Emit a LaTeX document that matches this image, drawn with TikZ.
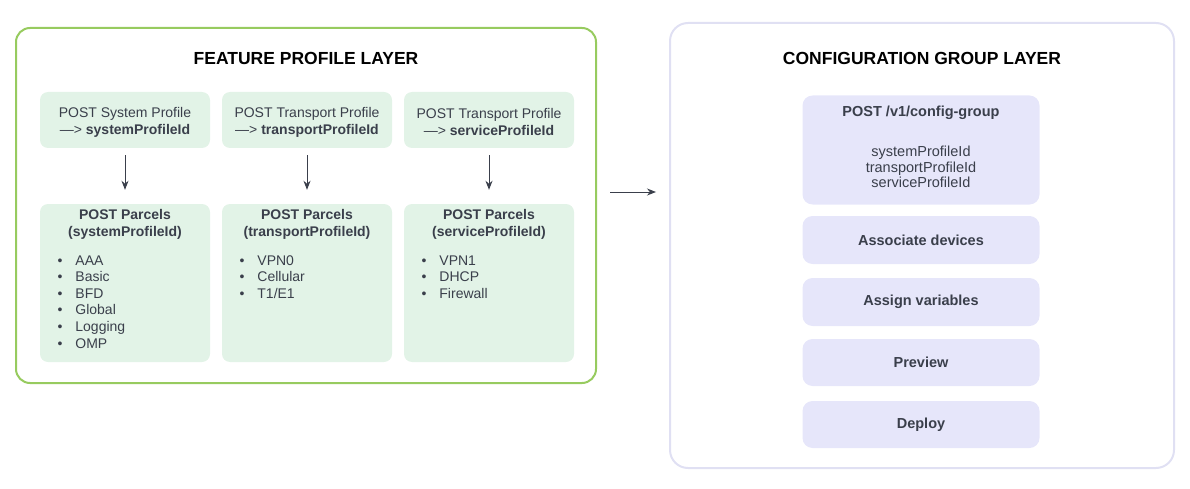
\documentclass[tikz,border=0pt]{standalone}
\usepackage{fontspec}
\setmainfont{Liberation Sans}
\usetikzlibrary{arrows.meta}
\definecolor{leafgreen}{HTML}{97CB5F}
\definecolor{mintfill}{HTML}{E2F3E7}
\definecolor{lavline}{HTML}{E0E0F3}
\definecolor{lavfill}{HTML}{E6E6FA}
\definecolor{inkgrey}{HTML}{3A3F4B}
\tikzset{
    layer/.style={draw, line width=2pt, rounded corners=14pt},
    greenbox/.style={fill=mintfill, rounded corners=8pt, minimum width=170pt, text=inkgrey, font=\fontsize{14}{17}\selectfont},
    lavbox/.style={fill=lavfill, rounded corners=10pt, minimum width=237pt, text=inkgrey, font=\fontsize{14.5}{17}\selectfont\bfseries},
    flow/.style={-{Stealth[length=9pt,width=7pt]}, draw=inkgrey, line width=1pt},
    heading/.style={font=\fontsize{17.5}{20}\selectfont\bfseries, text=black},
    bullets/.style={anchor=north west, align=left, text=inkgrey, font=\fontsize{14}{16.6}\selectfont}
}
\begin{document}
\begin{tikzpicture}[x=1pt, y=-1pt]
    \useasboundingbox (0,0) rectangle (1190,489);
    % two layers
    \draw[layer, draw=leafgreen] (16,28) rectangle (596,383);
    \draw[layer, draw=lavline, rounded corners=18pt] (670,23) rectangle (1174,468);
    \node[heading] (fpl) at (306,58) {FEATURE PROFILE LAYER};
    \node[heading] (cgl) at (922,58) {CONFIGURATION GROUP LAYER};

    % feature profiles
    \foreach \n/\x/\kind/\pid in {sys/125/System/systemProfileId, trn/307/Transport/transportProfileId, svc/489/Transport/serviceProfileId} {
        \node[greenbox, minimum height=56pt, align=center] (top\n) at (\x,120) {};
        \node[text=inkgrey, font=\fontsize{14}{17}\selectfont, align=center] (lbl\n) at (\x,122) {POST \kind{} Profile\\ —> \textbf{\pid}};
        \node[greenbox, minimum height=158pt] (par\n) at (\x,283) {};
        \node[text=inkgrey, font=\fontsize{14}{17}\selectfont\bfseries, align=center, anchor=north] (ttl\n) at (\x,206) {POST Parcels\\(\pid)};
        \draw[flow] ([yshift=-7pt]top\n.south) -- ([yshift=14pt]par\n.north);
    }
    \node[bullets] (lsys) at (54,252)
        {•\hspace{13pt}AAA\\•\hspace{13pt}Basic\\•\hspace{13pt}BFD\\•\hspace{13pt}Global\\•\hspace{13pt}Logging\\•\hspace{13pt}OMP};
    \node[bullets] (ltrn) at (236,252)
        {•\hspace{13pt}VPN0\\•\hspace{13pt}Cellular\\•\hspace{13pt}T1/E1};
    \node[bullets] (lsvc) at (418,252)
        {•\hspace{13pt}VPN1\\•\hspace{13pt}DHCP\\•\hspace{13pt}Firewall};

    % hand over
    \coordinate (hs) at (610,192);
    \coordinate (he) at (656,192);
    \draw[flow] (hs) -- (he);

    % configuration group steps
    \node[lavbox, minimum height=109pt] (cfg) at (921,150) {};
    \node[text=inkgrey, font=\fontsize{14.5}{17}\selectfont\bfseries] (cfgt) at (921,113) {POST /v1/config-group};
    \node[text=inkgrey, font=\fontsize{14.5}{15.5}\selectfont, align=center] (cfgi) at (921,167) {systemProfileId\\transportProfileId\\serviceProfileId};
    \node[lavbox, minimum height=48pt] (assoc) at (921,240) {Associate devices};
    \node[lavbox, minimum height=48pt] (vars) at (921,302) {Assign variables};
    \node[lavbox, minimum height=47pt] (prev) at (921,362.5) {Preview};
    \node[lavbox, minimum height=47pt] (dep) at (921,424.5) {Deploy};
\end{tikzpicture}
\end{document}
